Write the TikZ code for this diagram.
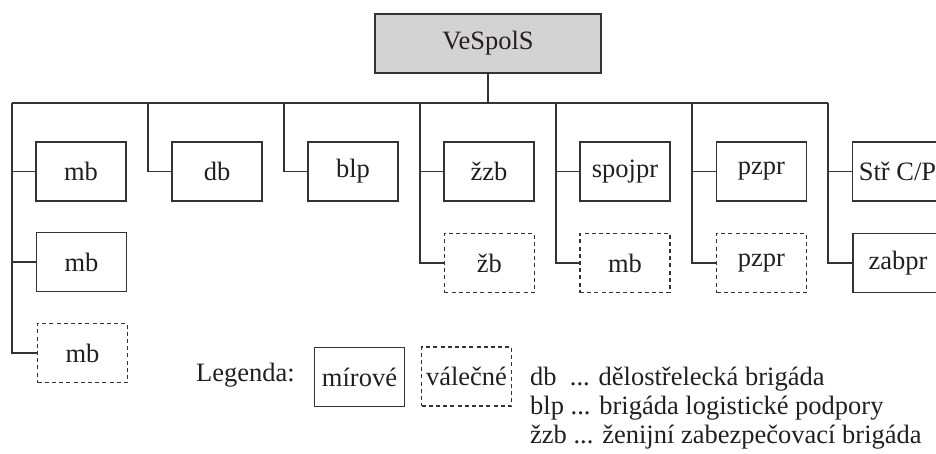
\documentclass[tikz,border=0pt]{standalone}
\usepackage{fontspec}
\setmainfont{Liberation Serif}
\definecolor{ln}{HTML}{333333}
\definecolor{tx}{HTML}{231F20}
\definecolor{topfill}{HTML}{D3D3D3}
\begin{document}
\begin{tikzpicture}[x=1pt,y=-1pt,
  font=\fontsize{26.5}{29}\selectfont, text=tx,
  line/.style={draw=ln, line width=1.1pt},
  unit/.style={line, minimum width=90pt, minimum height=59pt, inner sep=0pt, anchor=center},
  war/.style={unit, dash pattern=on 4pt off 3.2pt},
  leg/.style={anchor=base west, inner sep=0pt}]
\useasboundingbox (0,0) rectangle (936,453);
\clip (0,0) rectangle (936,453);
% top
\node[line, fill=topfill, minimum width=226pt, minimum height=59pt, inner sep=0pt] (top) at (488,43.5) {VeSpolS};
% bus coordinates
\coordinate (b1) at (12,103);
\coordinate (b2) at (148,103);
\coordinate (b3) at (284,103);
\coordinate (b4) at (420,103);
\coordinate (b5) at (556,103);
\coordinate (b6) at (692,103);
\coordinate (b7) at (828,103);
\coordinate (bt) at (488,103);
% row 1
\node[unit] (mb1) at (81,171.5) {mb};
\node[unit] (db) at (217,171.5) {db};
\node[unit] (blp) at (353,171.5) {blp};
\node[unit] (zzb) at (489,171.5) {žzb};
\node[unit] (spoj) at (625,171.5) {spojpr};
\node[unit] (pz1) at (761.5,171.5) {pzpr};
\node[unit] (str) at (897.5,171.5) {Stř C/P};
% row 2
\node[unit] (mb2) at (81.5,262) {mb};
\node[war] (zb) at (489.3,263) {žb};
\node[war] (mb4) at (625,263) {mb};
\node[war] (pz2) at (761.5,263) {pzpr};
\node[unit] (zab) at (898,263) {zabpr};
% row 3
\node[war] (mb3) at (82.5,353) {mb};
% connectors
\draw[line] (top.south) -- (bt);
\draw[line] (b1) -- (b7);
\draw[line] (b1) |- (mb3.west);
\draw[line] (b1 |- mb1) -- (mb1.west);
\draw[line] (b1 |- mb2) -- (mb2.west);
\draw[line] (b2) |- (db.west);
\draw[line] (b3) |- (blp.west);
\draw[line] (b4) |- (zb.west);
\draw[line] (b4 |- zzb) -- (zzb.west);
\draw[line] (b5) |- (mb4.west);
\draw[line] (b5 |- spoj) -- (spoj.west);
\draw[line] (b6) |- (pz2.west);
\draw[line] (b6 |- pz1) -- (pz1.west);
\draw[line] (b7) |- (zab.west);
\draw[line] (b7 |- str) -- (str.west);
% legend
\node[leg] (lg) at (196,381.7) {Legenda:};
\node[unit] (lmir) at (359.5,377) {mírové};
\node[war] (lval) at (466.5,376.5) {válečné};
\node[leg] (t1) at (530,385) {db\ \ ... dělostřelecká brigáda};
\node[leg] (t2) at (530,414.3) {blp ... brigáda logistické podpory};
\node[leg] (t3) at (530,443.5) {žzb ... ženijní zabezpečovací brigáda};
\end{tikzpicture}
\end{document}
